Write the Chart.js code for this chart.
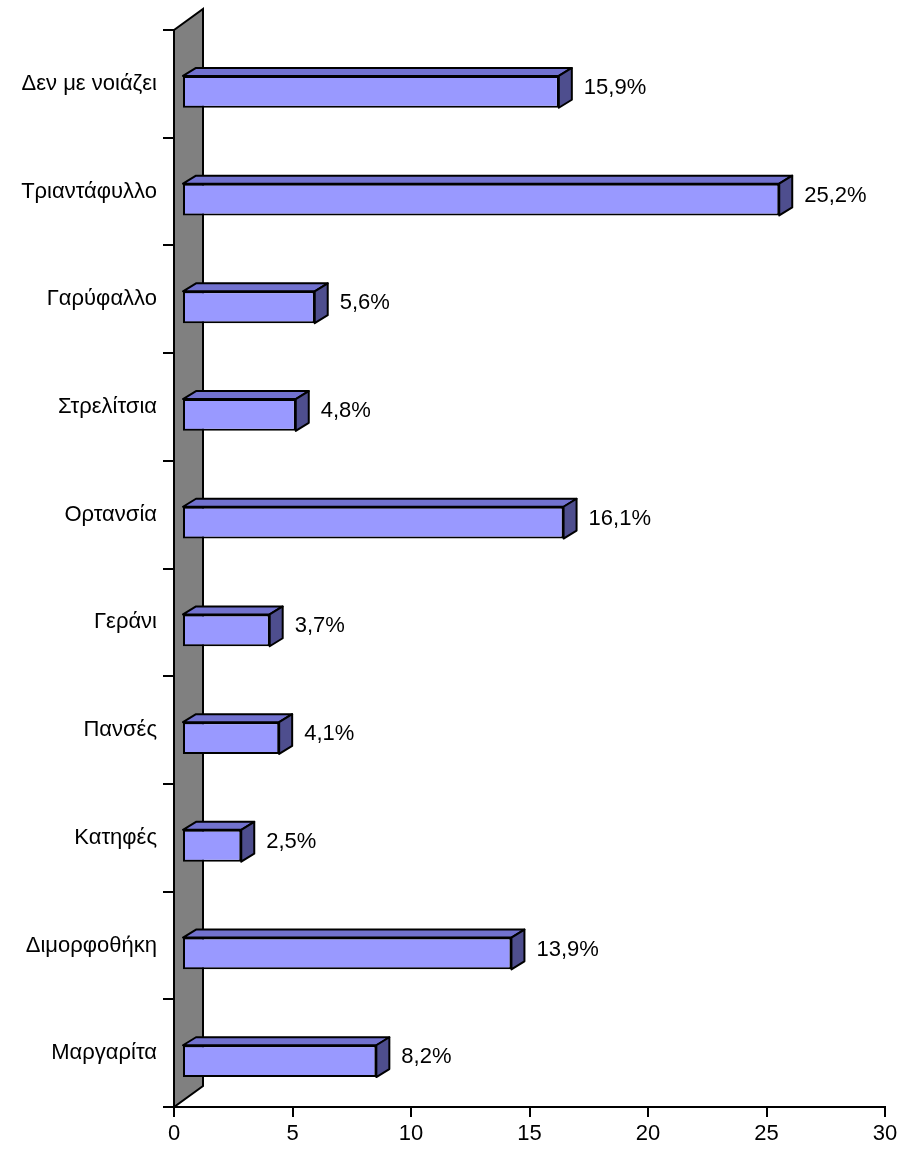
<!DOCTYPE html>
<html>
<head>
<meta charset="utf-8">
<script src="https://cdn.jsdelivr.net/npm/chart.js@4.4.1/dist/chart.umd.min.js"></script>
<style>
  html, body { margin: 0; padding: 0; background: #fff; }
  #wrap { width: 905px; height: 1149px; }
</style>
</head>
<body>
<div id="wrap"><canvas id="chart"></canvas></div>
<script>
// Data (top to bottom as in the picture)
const categories = ['Δεν με νοιάζει', 'Τριαντάφυλλο', 'Γαρύφαλλο', 'Στρελίτσια', 'Ορτανσία',
                    'Γεράνι', 'Πανσές', 'Κατηφές', 'Διμορφοθήκη', 'Μαργαρίτα'];
const values = [15.9, 25.2, 5.6, 4.8, 16.1, 3.7, 4.1, 2.5, 13.9, 8.2];
const xMin = 0, xMax = 30, xStep = 5;

// 3D look
const WALL_DX = 29, WALL_DY = -21;   // depth of the grey wall
const FRONT_DX = 8, FRONT_DY = 8;    // bar front face shift
const BAR_DX = 13, BAR_DY = -8;      // bar depth
const FONT = { family: '"Liberation Sans", Arial, sans-serif', size: 22 };

const bar3d = {
    id: 'bar3d',
    beforeDatasetsDraw(chart) {
        const ctx = chart.ctx;
        const area = chart.chartArea;
        const x0 = chart.scales.x.getPixelForValue(0);
        // grey wall behind the bars
        ctx.save();
        ctx.beginPath();
        ctx.moveTo(x0, area.top);
        ctx.lineTo(x0 + WALL_DX, area.top + WALL_DY);
        ctx.lineTo(x0 + WALL_DX, area.bottom + WALL_DY);
        ctx.lineTo(x0, area.bottom);
        ctx.closePath();
        ctx.fillStyle = '#808080';
        ctx.fill();
        ctx.lineWidth = 2;
        ctx.strokeStyle = '#000';
        ctx.stroke();
        ctx.restore();
        // shift the front faces a bit into the scene
        ctx.save();
        ctx.translate(FRONT_DX, FRONT_DY);
    },
    afterDatasetsDraw(chart) {
        const ctx = chart.ctx;
        ctx.restore();
        const meta = chart.getDatasetMeta(0);
        ctx.save();
        ctx.lineWidth = 2;
        ctx.strokeStyle = '#000';
        ctx.lineJoin = 'round';
        meta.data.forEach((bar, i) => {
            const p = bar.getProps(['x', 'y', 'base', 'height'], true);
            const left = p.base + FRONT_DX, right = p.x + FRONT_DX;
            const top = p.y + FRONT_DY - p.height / 2, bottom = p.y + FRONT_DY + p.height / 2;
            // top face
            ctx.beginPath();
            ctx.moveTo(left, top);
            ctx.lineTo(left + BAR_DX, top + BAR_DY);
            ctx.lineTo(right + BAR_DX, top + BAR_DY);
            ctx.lineTo(right, top);
            ctx.closePath();
            ctx.fillStyle = '#7272CF';
            ctx.fill();
            ctx.stroke();
            // side face
            ctx.beginPath();
            ctx.moveTo(right, top);
            ctx.lineTo(right + BAR_DX, top + BAR_DY);
            ctx.lineTo(right + BAR_DX, bottom + BAR_DY);
            ctx.lineTo(right, bottom);
            ctx.closePath();
            ctx.fillStyle = '#4E4E8E';
            ctx.fill();
            ctx.stroke();
            // value label
            ctx.fillStyle = '#000';
            ctx.font = FONT.size + 'px ' + FONT.family;
            ctx.textAlign = 'left';
            ctx.textBaseline = 'middle';
            const txt = values[i].toFixed(1).replace('.', ',') + '%';
            ctx.fillText(txt, right + BAR_DX + 12, p.y + 4);
        });
        ctx.restore();
    }
};

new Chart(document.getElementById('chart'), {
    type: 'bar',
    data: {
        labels: categories,
        datasets: [{
            data: values,
            backgroundColor: '#9999FF',
            borderColor: '#000',
            borderWidth: 2,
            borderSkipped: false,
            categoryPercentage: 1,
            barPercentage: 0.295,
            clip: false
        }]
    },
    options: {
        indexAxis: 'y',
        responsive: true,
        maintainAspectRatio: false,
        animation: false,
        layout: { padding: { top: 30, right: 20, left: 0, bottom: 0 } },
        plugins: { legend: { display: false }, tooltip: { enabled: false } },
        scales: {
            x: {
                min: xMin, max: xMax,
                ticks: { stepSize: xStep, color: '#000', font: FONT, padding: 4 },
                grid: { drawOnChartArea: false, color: '#000', tickLength: 10, lineWidth: 2 },
                border: { color: '#000', width: 2 },
                afterFit(scale) { scale.height = 42; }
            },
            y: {
                ticks: { color: '#000', font: FONT, padding: 6 },
                grid: { drawOnChartArea: false, color: '#000', tickLength: 11, lineWidth: 2, offset: true },
                border: { color: '#000', width: 2 },
                afterFit(scale) { scale.width = 174; }
            }
        }
    },
    plugins: [bar3d]
});
</script>
</body>
</html>
